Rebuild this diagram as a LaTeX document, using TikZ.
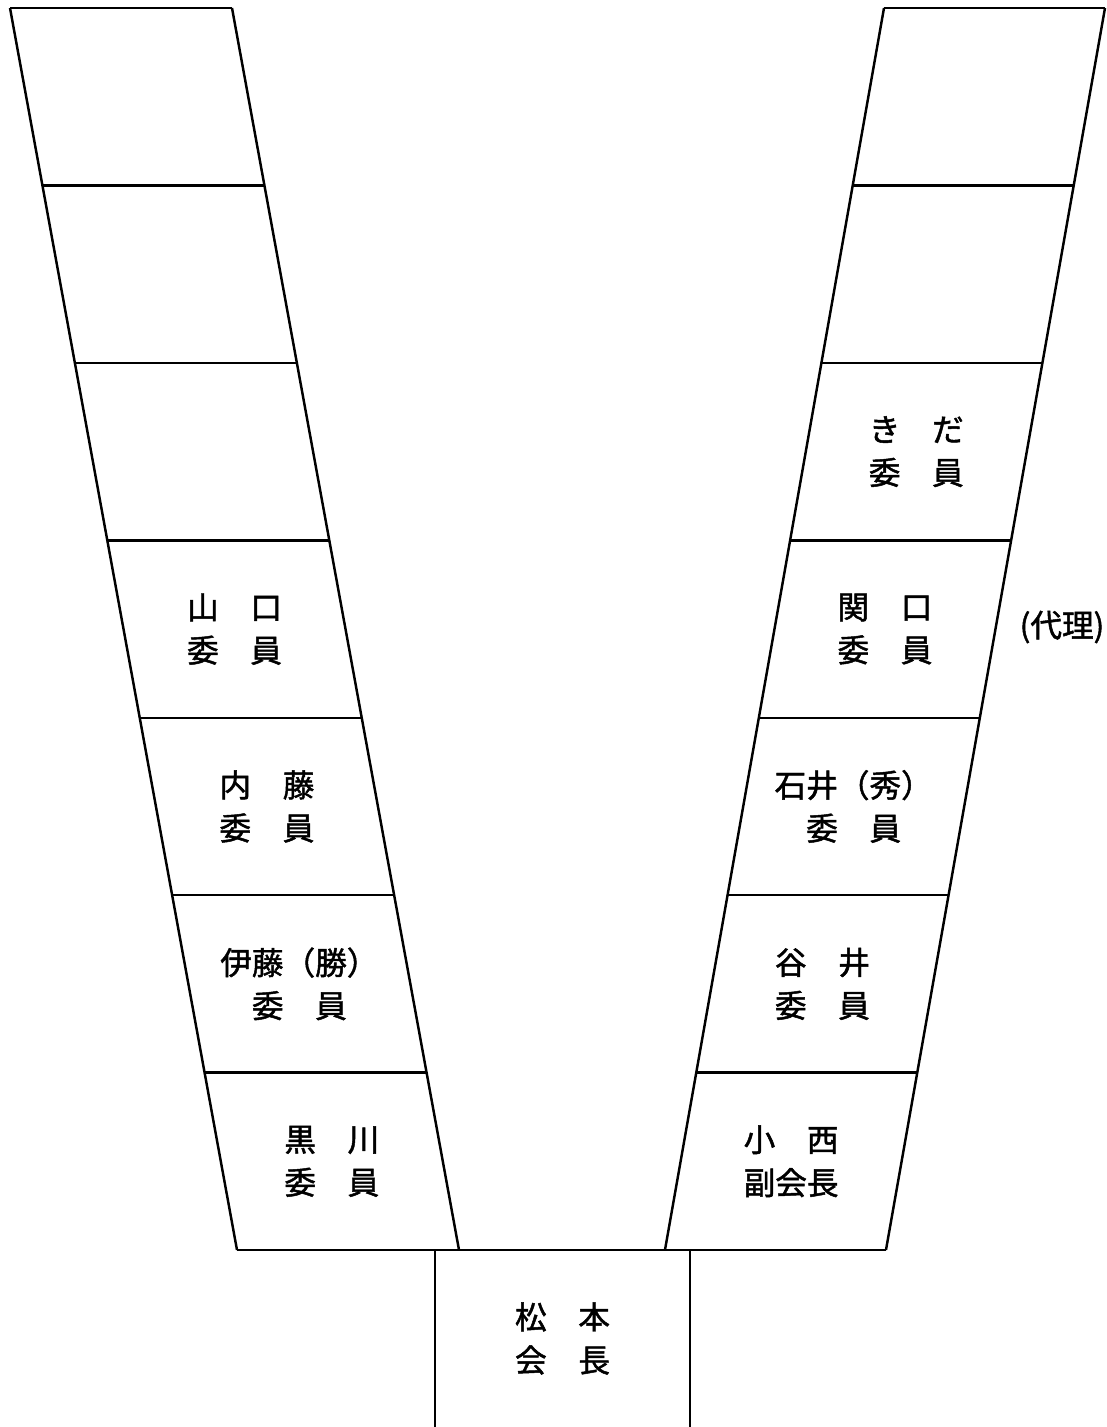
\documentclass[tikz,border=0pt]{standalone}
\usepackage{fontspec}
\newfontfamily\jp[FakeBold=1.5]{Noto Sans CJK JP}
\usetikzlibrary{calc,positioning}

\begin{document}
\begin{tikzpicture}[x=0.02cm,y=-0.02cm]
  \tikzstyle{bord}=[draw=black,line width=1.4pt]
  \tikzstyle{nom}=[font=\jp\fontsize{18}{24.5}\selectfont,align=center,inner sep=0pt]

  \useasboundingbox (0,0) rectangle (1106,1427);

  % coins des deux rangs
  \foreach \i in {0,...,7} {
    \coordinate (A\i) at (10+32.43*\i, 8+177.43*\i);
    \coordinate (B\i) at (232+32.43*\i, 8+177.43*\i);
    \coordinate (C\i) at (884-31.29*\i, 8+177.43*\i);
    \coordinate (D\i) at (1105-31.29*\i, 8+177.43*\i);
  }
  \draw[bord] (A0) -- (A7) (B0) -- (B7) (C0) -- (C7) (D0) -- (D7);
  \foreach \i in {0,...,6} {
    \draw[bord] (A\i) -- (B\i) (C\i) -- (D\i);
  }
  \draw[bord] (A7) -- (D7);

  % place du president
  \coordinate (E1) at (435,1250);
  \coordinate (E2) at (435,1427);
  \coordinate (F1) at (690,1250);
  \coordinate (F2) at (690,1427);
  \draw[bord] (E1) -- (E2) (F1) -- (F2);

  % rang gauche
  \foreach \r/\u/\v in {4/山　口/委　員, 5/内　藤/委　員, 6/伊藤（勝）/委　員, 7/黒　川/委　員} {
    \pgfmathtruncatemacro\p{\r-1}
    \node[nom] (G\r) at ($(A\p)!.5!(B\r)$) {\u\\\v};
  }
  % rang droit
  \foreach \r/\u/\v in {3/き　だ/委　員, 4/関　口/委　員, 5/石井（秀）/委　員, 6/谷　井/委　員, 7/小　西/副会長} {
    \pgfmathtruncatemacro\p{\r-1}
    \node[nom] (H\r) at ($(C\p)!.5!(D\r)$) {\u\\\v};
  }
  \node[nom] (rempl) at (1062,627) {(代理)};

  \node[nom] (pres) at ($(E1)!.5!(F2)$) {松　本\\会　長};
\end{tikzpicture}
\end{document}
